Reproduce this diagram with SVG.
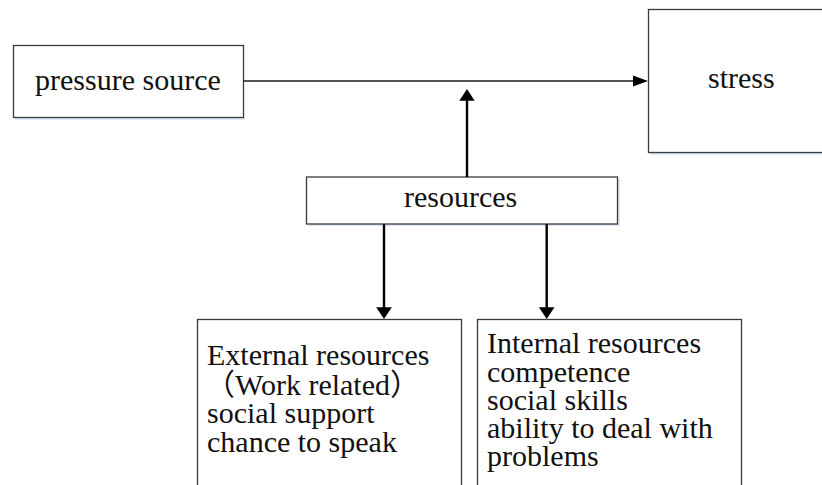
<svg xmlns="http://www.w3.org/2000/svg" width="822" height="485" viewBox="0 0 822 485">
  <style>
    .box { fill: #ffffff; stroke: #3a3a3a; stroke-width: 1.3; }
    .shadow { fill: #dde9f6; }
    .label { font-family: "Liberation Serif", "Times New Roman", "Noto Sans CJK SC", serif; font-size: 30px; fill: #111111; }
    .thin { stroke: #1a1a1a; stroke-width: 1.6; fill: none; }
    .thick { stroke: #000000; stroke-width: 2.4; fill: none; }
    .head { fill: #000000; }
  </style>
  <rect width="822" height="485" fill="#ffffff"/>

  <g id="pressure-source">
    <rect class="shadow" x="15" y="117" width="230" height="3"/>
    <rect class="box" x="13.5" y="45.5" width="230" height="72"/>
    <text class="label" x="35" y="90">pressure source</text>
  </g>

  <g id="stress">
    <rect class="shadow" x="650" y="152" width="172" height="3"/>
    <rect class="box" x="648.5" y="9.5" width="180" height="143"/>
    <text class="label" x="708" y="88">stress</text>
  </g>

  <g id="resources">
    <rect class="shadow" x="308" y="179" width="312" height="47"/>
    <rect class="box" x="306.5" y="177" width="311" height="47"/>
    <text class="label" x="404" y="207">resources</text>
  </g>

  <g id="external-resources">
    <rect class="box" x="197.5" y="319.5" width="264" height="180"/>
    <text class="label">
      <tspan x="207" y="365">External resources</tspan>
      <tspan x="205" y="395">（Work related）</tspan>
      <tspan x="207" y="423">social support</tspan>
      <tspan x="207" y="452">chance to speak</tspan>
    </text>
  </g>

  <g id="internal-resources">
    <rect class="box" x="477.5" y="319.5" width="264" height="180"/>
    <text class="label">
      <tspan x="487" y="353">Internal resources</tspan>
      <tspan x="487" y="382">competence</tspan>
      <tspan x="487" y="410">social skills</tspan>
      <tspan x="487" y="438">ability to deal with</tspan>
      <tspan x="487" y="466">problems</tspan>
    </text>
  </g>

  <g id="connectors">
    <!-- pressure source to stress -->
    <line class="thin" x1="243.5" y1="81" x2="634" y2="81"/>
    <polygon class="head" points="633,75.5 648,81 633,86.5"/>
    <!-- resources up to the main line -->
    <line class="thick" x1="467" y1="177" x2="467" y2="99"/>
    <polygon class="head" points="459.3,100.7 467,89 474.7,100.7"/>
    <!-- resources down to the two resource boxes -->
    <line class="thick" x1="384" y1="224" x2="384" y2="308"/>
    <polygon class="head" points="376.2,307.3 384,319 391.8,307.3"/>
    <line class="thick" x1="546.7" y1="224" x2="546.7" y2="308"/>
    <polygon class="head" points="538.9,307.3 546.7,319 554.5,307.3"/>
  </g>
</svg>
